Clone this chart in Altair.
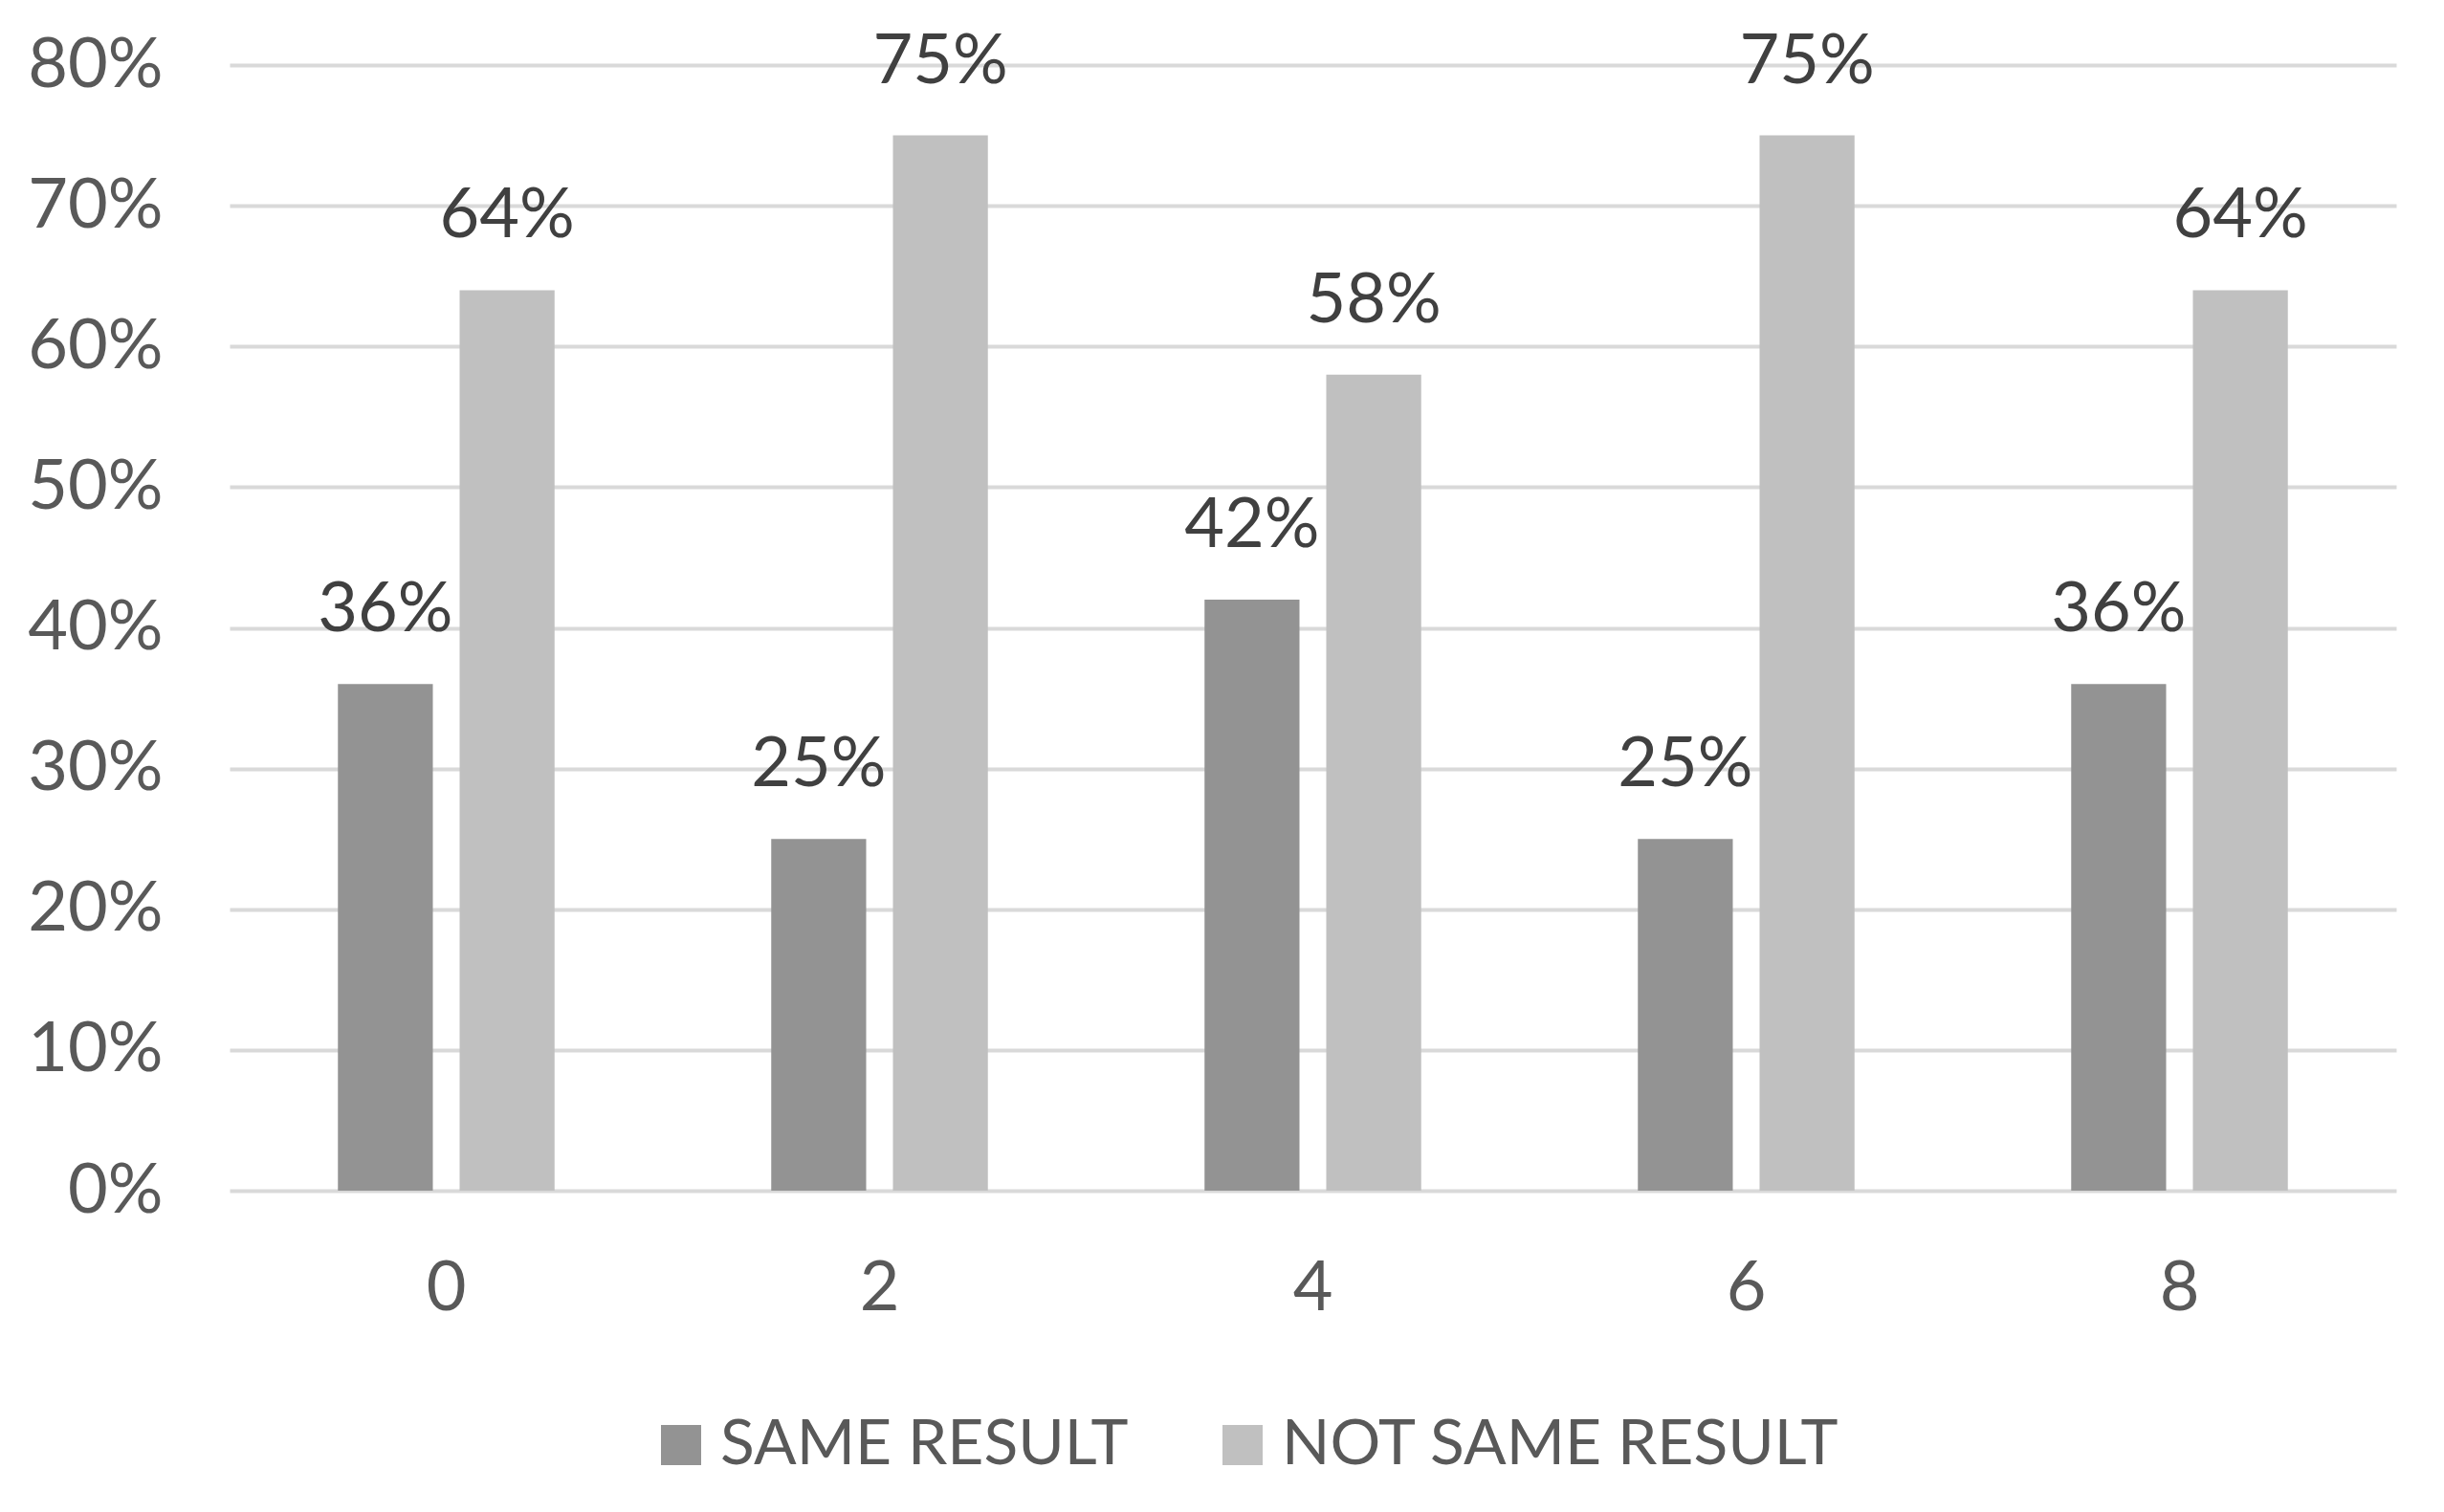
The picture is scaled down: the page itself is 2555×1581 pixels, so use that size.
import altair as alt
import pandas as pd

groups = ["0", "2", "4", "6", "8"]
series = ["SAME RESULT", "NOT SAME RESULT"]
same_result = [0.36, 0.25, 0.42, 0.25, 0.36]
not_same_result = [0.64, 0.75, 0.58, 0.75, 0.64]
y_ticks = [0, 0.1, 0.2, 0.3, 0.4, 0.5, 0.6, 0.7, 0.8]
colors = ["#939393", "#c0c0c0"]

rows = []
for g, a, b in zip(groups, same_result, not_same_result):
    rows.append({"group": g, "series": series[0], "value": a})
    rows.append({"group": g, "series": series[1], "value": b})
df = pd.DataFrame(rows)

FONT = "Lato"

x = alt.X("group:N", sort=groups,
          scale=alt.Scale(paddingInner=0.5, paddingOuter=0.25),
          axis=alt.Axis(title=None, labelAngle=0, labelFontSize=72, labelColor="#595959",
                        labelFont=FONT, ticks=False, domain=False, grid=False, labelPadding=67))
xo = alt.XOffset("series:N", sort=series, scale=alt.Scale(paddingInner=0.22))
y = alt.Y("value:Q", scale=alt.Scale(domain=[0, 0.8], nice=False),
          axis=alt.Axis(title=None, values=y_ticks, format=".0%", labelFontSize=72,
                        labelColor="#595959", labelFont=FONT, ticks=False, domain=False,
                        gridColor="#d9d9d9", gridWidth=4, labelPadding=70))

bars = alt.Chart(df).mark_bar().encode(
    x=x, xOffset=xo, y=y,
    color=alt.Color("series:N", sort=series,
                    scale=alt.Scale(domain=series, range=colors),
                    legend=alt.Legend(title=None, orient="none", direction="horizontal",
                                      legendX=439, legendY=1410,
                                      labelFontSize=66, labelColor="#595959", labelFont=FONT,
                                      labelLimit=0,
                                      symbolType="square", symbolSize=1764, symbolStrokeWidth=0,
                                      labelOffset=8, columnPadding=86)),
)

labels = alt.Chart(df).mark_text(baseline="alphabetic", dy=-55, fontSize=72,
                                 font=FONT, color="#404040").encode(
    x=x, xOffset=xo, y=y,
    text=alt.Text("value:Q", format=".0%"),
)

chart = alt.layer(bars, labels).properties(
    width=2265, height=1177,
    autosize=alt.AutoSizeParams(type="none"),
    padding={"left": 232, "top": 60, "right": 42, "bottom": 328},
).configure(background="white").configure_view(stroke=None)

chart.save("out.html", embed_options={"renderer": "svg", "actions": False})
